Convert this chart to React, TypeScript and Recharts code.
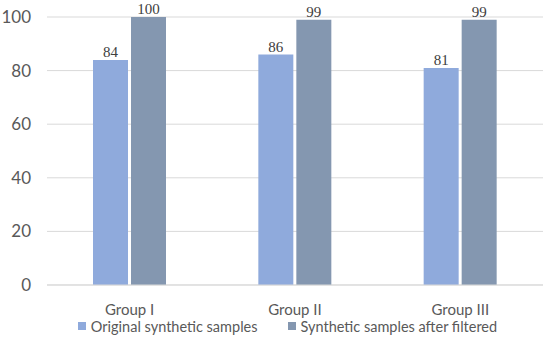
import React from "react";
import { BarChart, Bar, XAxis, YAxis, CartesianGrid, Legend, LabelList } from "recharts";

const categories = ["Group I", "Group II", "Group III"];
const originalValues = [84, 86, 81];
const filteredValues = [100, 99, 99];
const yTicks = [0, 20, 40, 60, 80, 100];
const seriesNames = ["Original synthetic samples", "Synthetic samples after filtered"];

const data = categories.map((c, i) => ({
  name: c,
  original: originalValues[i],
  filtered: filteredValues[i],
}));

const FONT = "Lato, 'Open Sans', sans-serif";

const renderLegend = (props: any) => {
  const { payload } = props;
  return (
    <div style={{ display: "flex", justifyContent: "center", alignItems: "center", height: 22, fontFamily: FONT, fontSize: 14.5, color: "#595959", paddingLeft: 32 }}>
      {payload.map((p: any, i: number) => (
        <div key={i} style={{ display: "flex", alignItems: "center", marginRight: i === 0 ? 30 : 0 }}>
          <div style={{ width: 8, height: 8, background: p.color, marginRight: 5 }} />
          <span>{p.value}</span>
        </div>
      ))}
    </div>
  );
};

export default function App() {
  return (
    <div style={{ position: "absolute", left: 0, top: 0 }}>
      <BarChart
        width={550}
        height={340}
        data={data}
        margin={{ top: 17, right: 7, left: 0, bottom: 3 }}
        barSize={35}
        barGap={3}
      >
        <CartesianGrid vertical={false} stroke="#d9d9d9" />
        <XAxis
          dataKey="name"
          axisLine={{ stroke: "#d9d9d9" }}
          tickLine={false}
          tickSize={0}
          tickMargin={19}
          height={30}
          tick={{ fill: "#595959", fontSize: 15, fontFamily: FONT }}
        />
        <YAxis
          domain={[0, 100]}
          ticks={yTicks}
          axisLine={false}
          tickLine={false}
          width={47}
          tickMargin={10}
          tick={{ fill: "#595959", fontSize: 17, fontFamily: FONT }}
        />
        <Legend verticalAlign="bottom" height={22} content={renderLegend} />
        <Bar dataKey="original" name={seriesNames[0]} fill="#8FAADC" isAnimationActive={false}>
          <LabelList dataKey="original" position="top" offset={3} style={{ fill: "#404040", fontSize: 15, fontFamily: "'Liberation Serif', serif" }} />
        </Bar>
        <Bar dataKey="filtered" name={seriesNames[1]} fill="#8497B0" isAnimationActive={false}>
          <LabelList dataKey="filtered" position="top" offset={3} style={{ fill: "#404040", fontSize: 15, fontFamily: "'Liberation Serif', serif" }} />
        </Bar>
      </BarChart>
    </div>
  );
}
